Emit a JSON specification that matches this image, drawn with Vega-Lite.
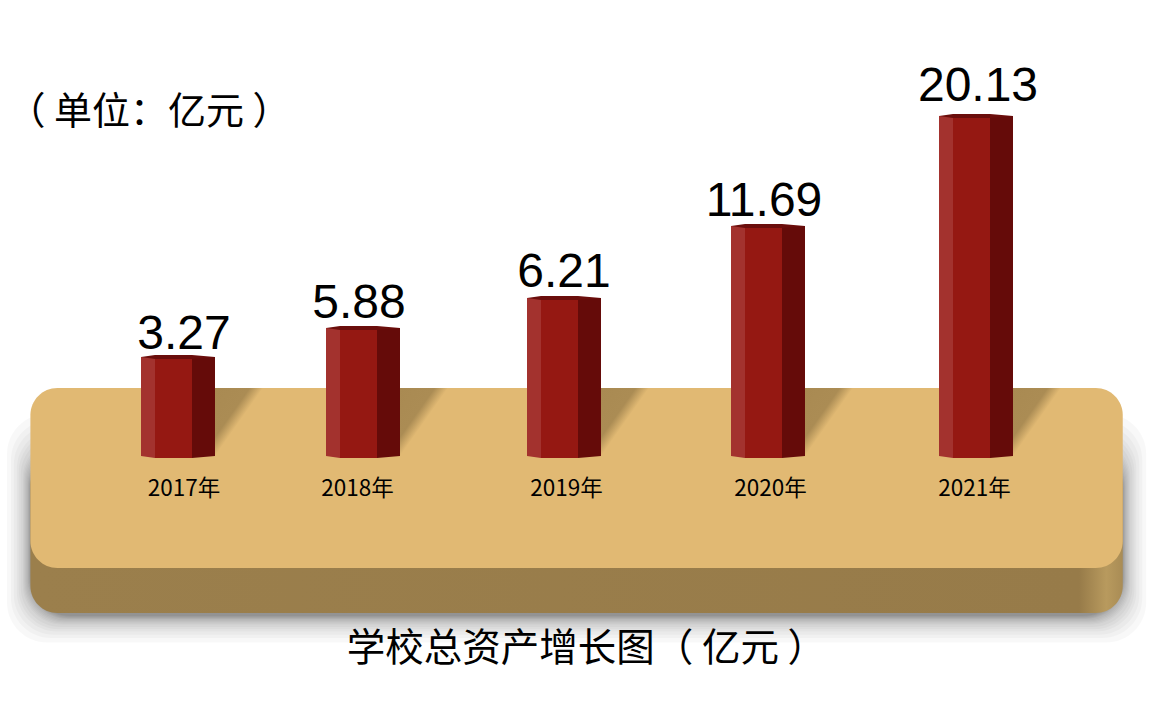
{
"$schema":"https://vega.github.io/schema/vega-lite/v6.json",
"width":1153,"height":702,"padding":0,"autosize":{"type":"none"},"background":"white",
"config":{"view":{"stroke":null},"axis":{"disable":true},"legend":{"disable":true}},
"datasets":{
"assets":[
{"year":2017,"value":3.27,"yearLabel":"2017年"},
{"year":2018,"value":5.88,"yearLabel":"2018年"},
{"year":2019,"value":6.21,"yearLabel":"2019年"},
{"year":2020,"value":11.69,"yearLabel":"2020年"},
{"year":2021,"value":20.13,"yearLabel":"2021年"}],
"rings":[
{"x0":2016,"x1":2022,"top":0.264,"bot":-5.064},
{"x0":2015.9966,"x1":2022.0034,"top":0.289,"bot":-5.082},
{"x0":2015.9932,"x1":2022.0068,"top":0.314,"bot":-5.099},
{"x0":2015.9899,"x1":2022.0103,"top":0.338,"bot":-5.117},
{"x0":2015.9865,"x1":2022.0137,"top":0.363,"bot":-5.135},
{"x0":2015.9831,"x1":2022.0171,"top":0.388,"bot":-5.152},
{"x0":2015.9797,"x1":2022.0205,"top":0.413,"bot":-5.170},
{"x0":2015.9730,"x1":2022.0274,"top":0.462,"bot":-5.205},
{"x0":2015.9662,"x1":2022.0342,"top":0.512,"bot":-5.240},
{"x0":2015.9595,"x1":2022.0411,"top":0.561,"bot":-5.276},
{"x0":2015.9527,"x1":2022.0479,"top":0.611,"bot":-5.311},
{"x0":2015.9459,"x1":2022.0548,"top":0.661,"bot":-5.346},
{"x0":2015.9324,"x1":2022.0685,"top":0.760,"bot":-5.417},
{"x0":2015.9189,"x1":2022.0822,"top":0.859,"bot":-5.487},
{"x0":2015.9054,"x1":2022.0959,"top":0.958,"bot":-5.558},
{"x0":2015.8851,"x1":2022.1164,"top":1.106,"bot":-5.663},
{"x0":2015.8649,"x1":2022.1370,"top":1.255,"bot":-5.769},
{"x0":2015.8378,"x1":2022.1644,"top":1.453,"bot":-5.910}],
"notes":[{"unit":"（ 单位：亿元 ）","title":"学校总资产增长图（ 亿元 ）"}]
},
"layer":[
{"data":{"name":"rings"},"mark":{"type":"rect","color":"#000000","opacity":0.028,"cornerRadius":40,"xOffset":-3,"x2Offset":4},
 "encoding":{
 "x":{"field":"x0","type":"quantitative","scale":{"domain":[2015.797,2017,2018,2019,2020,2021,2022.212],"range":[0,178,363,564,768,976,1153],"nice":false,"zero":false}},
 "x2":{"field":"x1"},
 "y":{"field":"top","type":"quantitative","scale":{"domain":[-7.82,0,3.27,5.88,6.21,11.69,20.13,24],"range":[702,458,359,330,300,228,118,0],"nice":false,"zero":false}},
 "y2":{"field":"bot"}}},
{"data":{"name":"notes"},"mark":{"type":"rect","cornerRadius":27,"xOffset":-3,"x2Offset":4,"color":{"gradient":"linear","x1":0,"x2":1,"y1":0,"y2":0,"stops":[{"offset":0,"color":"#9b7f4c"},{"offset":0.96,"color":"#977b49"},{"offset":0.985,"color":"#b89a5e"},{"offset":1,"color":"#a98c55"}]}},
 "encoding":{"x":{"datum":2016,"type":"quantitative"},"x2":{"datum":2022},"y":{"datum":0,"type":"quantitative"},"y2":{"datum":-4.968}}},
{"data":{"name":"notes"},"mark":{"type":"rect","cornerRadius":27,"xOffset":-3,"x2Offset":4,"color":"#e1b973"},
 "encoding":{"x":{"datum":2016,"type":"quantitative"},"x2":{"datum":2022},"y":{"datum":2.312,"type":"quantitative"},"y2":{"datum":-3.526}}},
{"data":{"name":"assets"},"mark":{"type":"point","filled":true,"opacity":1,"size":5476,"strokeWidth":0,"shape":"M1,-1.89L2.3,-1.89L1.135,-0.05L1,-0.05Z","fill":{"gradient":"linear","x1":0,"y1":0,"x2":1,"y2":1,"stops":[{"offset":0,"color":"#a98a52"},{"offset":0.36,"color":"#ab8c54"},{"offset":0.5,"color":"#e1b973"},{"offset":1,"color":"#e1b973"}]}},
 "encoding":{"x":{"field":"year","type":"quantitative"},"y":{"datum":0,"type":"quantitative"}}},
{"data":{"name":"assets"},"mark":{"type":"bar","orient":"vertical","width":14,"xOffset":-30,"yOffset":-2,"y2Offset":-2,"color":"#a3322e"},
 "encoding":{"x":{"field":"year","type":"quantitative"},"y":{"field":"value","type":"quantitative"}}},
{"data":{"name":"assets"},"mark":{"type":"bar","orient":"vertical","width":37,"xOffset":-4.5,"color":"#951812"},
 "encoding":{"x":{"field":"year","type":"quantitative"},"y":{"field":"value","type":"quantitative"}}},
{"data":{"name":"assets"},"mark":{"type":"bar","orient":"vertical","width":23,"xOffset":25.5,"yOffset":-2,"y2Offset":-2,"color":"#650b09"},
 "encoding":{"x":{"field":"year","type":"quantitative"},"y":{"field":"value","type":"quantitative"}}},
{"data":{"name":"assets"},"mark":{"type":"point","filled":true,"opacity":1,"size":5476,"strokeWidth":0,"color":"#6b0e0c","shape":"M-1,-0.054L-0.622,-0.108L0.378,-0.108L1,-0.054L0.378,0L-0.622,0Z"},
 "encoding":{"x":{"field":"year","type":"quantitative"},"y":{"field":"value","type":"quantitative"}}},
{"data":{"name":"assets"},"mark":{"type":"point","filled":true,"opacity":1,"size":5476,"strokeWidth":0,"color":"#a3322e","shape":"M-1,-0.054L-0.622,-0.054L-0.622,0L-1,-0.054Z"},
 "encoding":{"x":{"field":"year","type":"quantitative"},"y":{"datum":0,"type":"quantitative"}}},
{"data":{"name":"assets"},"mark":{"type":"point","filled":true,"opacity":1,"size":5476,"strokeWidth":0,"color":"#650b09","shape":"M0.378,-0.054L1,-0.054L0.378,0Z"},
 "encoding":{"x":{"field":"year","type":"quantitative"},"y":{"datum":0,"type":"quantitative"}}},
{"data":{"name":"assets"},"mark":{"type":"text","font":"Liberation Sans","fontSize":48,"baseline":"alphabetic","align":"center","dx":{"expr":"datum.year==2017?6:datum.year==2018?-4:datum.year==2020?-4:datum.year==2021?2:0"},"dy":{"expr":"datum.year==2021?-17:datum.year==2017?-10:datum.year==2019?-13:-12"},"color":"#000000"},
 "encoding":{"x":{"field":"year","type":"quantitative"},"y":{"field":"value","type":"quantitative"},"text":{"field":"value","type":"quantitative","format":".2f"}}},
{"data":{"name":"assets"},"mark":{"type":"text","font":"Noto Sans CJK SC","fontSize":22.5,"baseline":"middle","align":"center","dx":{"expr":"datum.year==2017?6:datum.year==2018?-5.5:datum.year==2021?-1.5:2.5"},"dy":2,"color":"#000000"},
 "encoding":{"x":{"field":"year","type":"quantitative"},"y":{"datum":-0.93,"type":"quantitative"},"text":{"field":"yearLabel"}}},
{"data":{"name":"notes"},"mark":{"type":"text","font":"Noto Sans CJK SC","fontSize":38,"baseline":"middle","align":"center","dy":3,"color":"#000000"},
 "encoding":{"x":{"datum":2016.8,"type":"quantitative"},"y":{"datum":20.39,"type":"quantitative"},"text":{"field":"unit"}}},
{"data":{"name":"notes"},"mark":{"type":"text","font":"Noto Sans CJK SC","fontSize":38.5,"baseline":"middle","align":"center","dy":2,"color":"#000000"},
 "encoding":{"x":{"datum":2019.11,"type":"quantitative"},"y":{"datum":-6.06,"type":"quantitative"},"text":{"field":"title"}}}
]
}
